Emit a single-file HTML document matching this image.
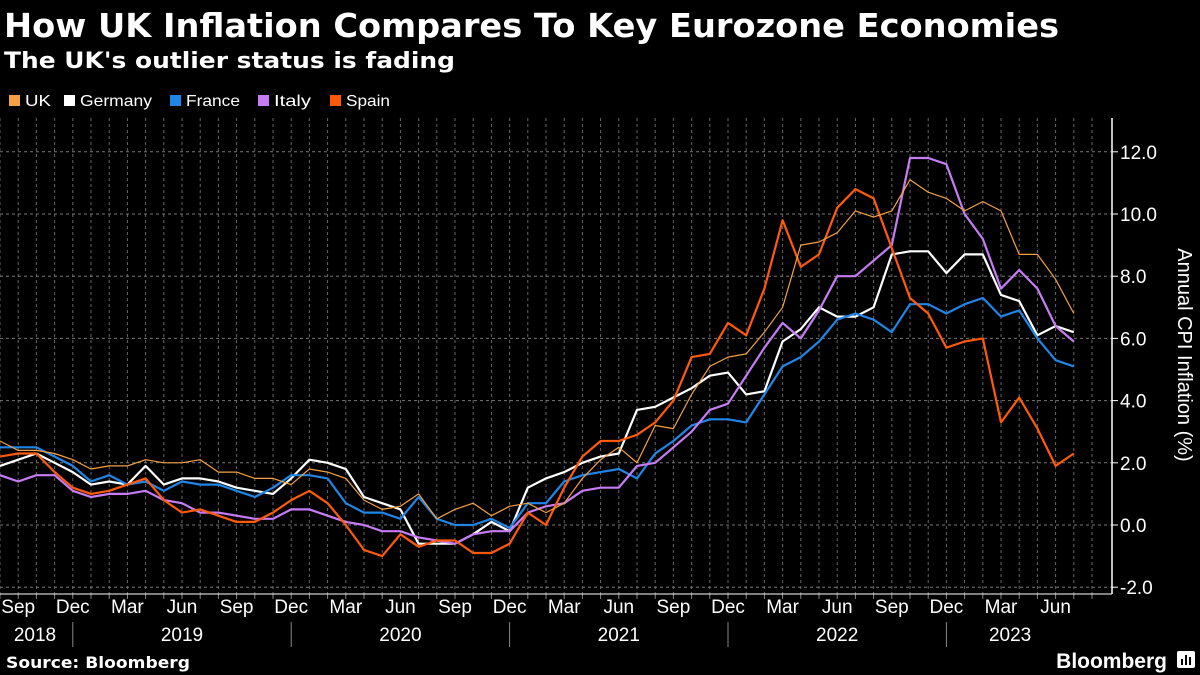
<!DOCTYPE html>
<html><head><meta charset="utf-8">
<style>
html,body{margin:0;padding:0;background:#000;width:1200px;height:675px;overflow:hidden}
svg{display:block}
text{font-family:"Liberation Sans","DejaVu Sans",sans-serif}
.dv{font-family:"DejaVu Sans","Liberation Sans",sans-serif}
</style></head>
<body>
<svg id="chart" width="1200" height="675" xmlns="http://www.w3.org/2000/svg">
<text class="dv" x="4" y="37" fill="#fff" font-size="33" font-weight="bold" textLength="1055" lengthAdjust="spacingAndGlyphs">How UK Inflation Compares To Key Eurozone Economies</text>
<text class="dv" x="4" y="68" fill="#fff" font-size="22" font-weight="bold" textLength="451" lengthAdjust="spacingAndGlyphs">The UK's outlier status is fading</text>
<g id="legend"></g>
<g id="grid"></g>
<g id="axes"></g>
<g id="series"></g>
<text transform="translate(1178,355) rotate(90)" text-anchor="middle" fill="#fff" font-size="20">Annual CPI Inflation (%)</text>
<text class="dv" x="6" y="668" fill="#fff" font-size="16" font-weight="bold" textLength="184" lengthAdjust="spacingAndGlyphs">Source: Bloomberg</text>
<text x="1167" y="668" text-anchor="end" fill="#fff" font-size="21" font-weight="bold">Bloomberg</text>
<g><rect x="1177" y="651" width="18" height="17" rx="2" fill="#fff"/><rect x="1181" y="659" width="2" height="6" fill="#000"/><rect x="1185" y="655" width="2" height="10" fill="#000"/><rect x="1189" y="657" width="2" height="8" fill="#000"/></g>
</svg>
<script>
const months = ["Aug","Sep","Oct","Nov","Dec","Jan","Feb","Mar","Apr","May","Jun","Jul"];
const startYear = 2018;
const yTicks = [-2,0,2,4,6,8,10,12];
const seriesNames = ["UK","Germany","France","Italy","Spain"];
const seriesColors = ["#f5a142","#ffffff","#1f86e8","#c77cf5","#ff5a0a"];
const ukValues = [2.7,2.4,2.4,2.3,2.1,1.8,1.9,1.9,2.1,2.0,2.0,2.1,1.7,1.7,1.5,1.5,1.3,1.8,1.7,1.5,0.8,0.5,0.6,1.0,0.2,0.5,0.7,0.3,0.6,0.7,0.4,0.7,1.5,2.1,2.5,2.0,3.2,3.1,4.2,5.1,5.4,5.5,6.2,7.0,9.0,9.1,9.4,10.1,9.9,10.1,11.1,10.7,10.5,10.1,10.4,10.1,8.7,8.7,7.9,6.8];
const germanyValues = [1.9,2.1,2.3,2.0,1.7,1.3,1.4,1.3,1.9,1.3,1.5,1.5,1.4,1.2,1.1,1.0,1.5,2.1,2.0,1.8,0.9,0.7,0.5,-0.6,-0.6,-0.6,-0.3,0.1,-0.2,1.2,1.5,1.7,2.0,2.2,2.3,3.7,3.8,4.1,4.4,4.8,4.9,4.2,4.3,5.9,6.3,7.0,6.7,6.7,7.0,8.7,8.8,8.8,8.1,8.7,8.7,7.4,7.2,6.1,6.4,6.2];
const franceValues = [2.5,2.5,2.5,2.2,1.9,1.4,1.6,1.3,1.4,1.1,1.4,1.3,1.3,1.1,0.9,1.2,1.6,1.6,1.5,0.7,0.4,0.4,0.2,0.9,0.2,0.0,0.0,0.2,-0.1,0.7,0.7,1.4,1.6,1.7,1.8,1.5,2.3,2.7,3.2,3.4,3.4,3.3,4.2,5.1,5.4,5.9,6.6,6.8,6.6,6.2,7.1,7.1,6.8,7.1,7.3,6.7,6.9,6.0,5.3,5.1];
const italyValues = [1.6,1.4,1.6,1.6,1.1,0.9,1.0,1.0,1.1,0.8,0.7,0.4,0.4,0.3,0.2,0.2,0.5,0.5,0.3,0.1,0.0,-0.2,-0.2,-0.4,-0.5,-0.6,-0.3,-0.2,-0.2,0.4,0.6,0.7,1.1,1.2,1.2,1.9,2.0,2.5,3.0,3.7,3.9,4.8,5.7,6.5,6.0,6.9,8.0,8.0,8.5,9.0,11.8,11.8,11.6,10.0,9.2,7.6,8.2,7.6,6.4,5.9];
const spainValues = [2.2,2.3,2.3,1.7,1.2,1.0,1.1,1.3,1.5,0.8,0.4,0.5,0.3,0.1,0.1,0.4,0.8,1.1,0.7,0.0,-0.8,-1.0,-0.3,-0.7,-0.5,-0.5,-0.9,-0.9,-0.6,0.4,0.0,1.2,2.2,2.7,2.7,2.9,3.3,4.0,5.4,5.5,6.5,6.1,7.6,9.8,8.3,8.7,10.2,10.8,10.5,8.9,7.3,6.8,5.7,5.9,6.0,3.3,4.1,3.1,1.9,2.3];

const NS="http://www.w3.org/2000/svg";
const plotL=0, plotR=1112, plotT=118, plotB=594;
const stepX=18.2;
const x = i => plotL + i*stepX;
const y = v => 525 - v*31.1;
function mk(tag, attrs, parent){const e=document.createElementNS(NS,tag);for(const k in attrs)e.setAttribute(k,attrs[k]);parent.appendChild(e);return e;}

const grid=document.getElementById('grid'), axes=document.getElementById('axes'), ser=document.getElementById('series'), leg=document.getElementById('legend');
const n=ukValues.length;
for(let i=0;i<=61;i++){const xx=x(i); if(xx>plotR-2) break;
  const l=mk('line',{x1:xx,x2:xx,y1:plotT,y2:plotB,stroke:'#666','stroke-width':1,'stroke-dasharray':'3,3'},grid);
  
  
  const t=mk('line',{x1:xx,x2:xx,y1:plotB,y2:plotB+5,stroke:'#888','stroke-width':1},axes);
  
  
}
yTicks.forEach(v=>{
  const l=mk('line',{x1:plotL,x2:plotR,y1:y(v),y2:y(v),stroke:'#777','stroke-width':1,'stroke-dasharray':'3,3'},grid);
  
  
  const t=mk('line',{x1:plotR,x2:plotR+6,y1:y(v),y2:y(v),stroke:'#fff','stroke-width':1},axes);
  
  
  const lab=mk('text',{x:plotR+8,y:y(v)+7,fill:'#fff','font-size':19},axes);
  
  
  lab.textContent=v.toFixed(1);
});
const ax=mk('line',{x1:plotR,x2:plotR,y1:plotT,y2:plotB,stroke:'#fff','stroke-width':1.5},axes);


const bx=mk('line',{x1:plotL,x2:plotR,y1:plotB,y2:plotB,stroke:'#fff','stroke-width':1},axes);


for(let i=0;i<n;i++){
  const m=months[i%12];
  if(["Sep","Dec","Mar","Jun"].includes(m)){
    const t=mk('text',{x:x(i),y:613,fill:'#fff','font-size':19,'text-anchor':'middle'},axes);
    
    
    t.textContent=m;
  }
  if(m==="Dec"){
    const s=mk('line',{x1:x(i),x2:x(i),y1:622,y2:647,stroke:'#888','stroke-width':1},axes);
    
    
  }
}
for(let yr=0; yr<6; yr++){
  let a = yr===0?0:(4+12*(yr-1)); let b = 4+12*yr; if(b>n-1) b=n-1;
  let cx = yr===0 ? 35 : (x(a)+x(b))/2;
  const t=mk('text',{x:cx,y:641,fill:'#fff','font-size':19,'text-anchor':'middle'},axes);
  
  
  t.textContent=String(startYear+yr);
}
const all=[ukValues,germanyValues,franceValues,italyValues,spainValues];
const order=[1,2,3,4,0];
order.forEach(k=>{
  const vals=all[k];
  const d=vals.map((v,i)=>(i?'L':'M')+x(i).toFixed(1)+','+y(v).toFixed(1)).join(' ');
  const p=mk('path',{d:d,fill:'none',stroke:seriesColors[k],'stroke-width':k===0?1.2:2.2,'stroke-linejoin':'round'},ser);
  
  
});
const legX=[9,64,170,258,330];
const legW=[26,72,54,37,44];
seriesNames.forEach((nm,k)=>{
  const g=mk('g',{},leg);
  
  
  mk('rect',{x:legX[k],y:95,width:11,height:11,fill:seriesColors[k]},g);
  const t=mk('text',{x:legX[k]+16,y:106,fill:'#fff','font-size':16,textLength:legW[k],lengthAdjust:'spacingAndGlyphs'},g);
  t.textContent=nm;
});
</script>
</body></html>
